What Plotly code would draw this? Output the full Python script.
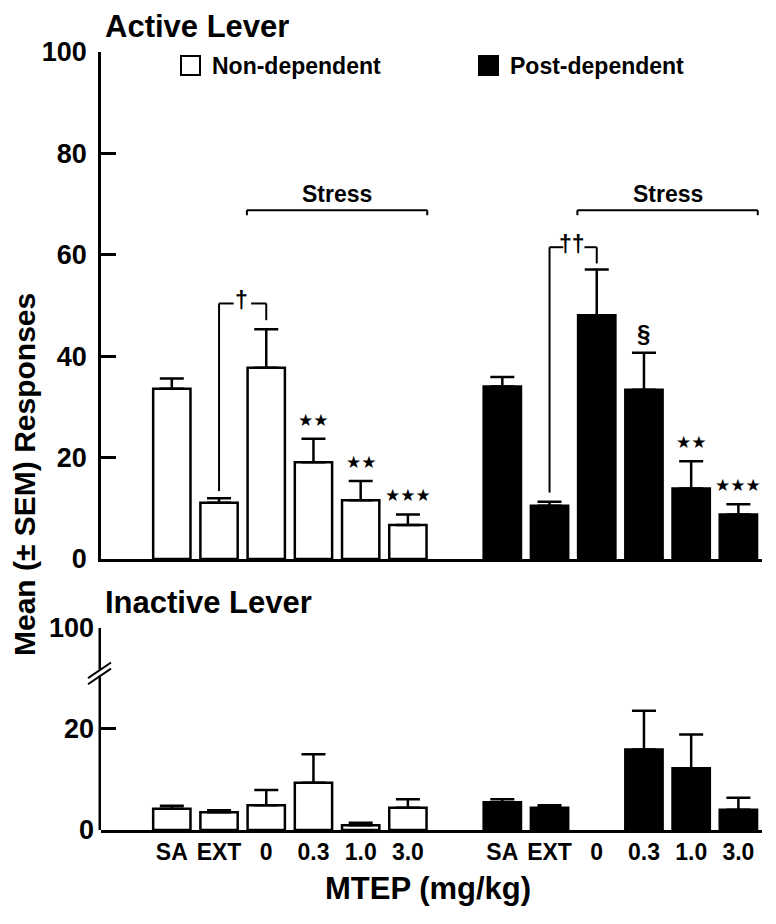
import plotly.graph_objects as go

# ---------------- data ----------------
categories = ["SA", "EXT", "0", "0.3", "1.0", "3.0"]
groups = ["Non-dependent", "Post-dependent"]

active_nd_mean = [33.6, 11.1, 37.7, 19.1, 11.6, 6.7]
active_nd_sem = [2.0, 0.9, 7.6, 4.6, 3.8, 2.1]
active_pd_mean = [34.0, 10.5, 48.1, 33.4, 13.9, 8.8]
active_pd_sem = [1.9, 0.8, 9.0, 7.3, 5.4, 2.0]

inactive_nd_mean = [4.2, 3.5, 4.9, 9.35, 0.95, 4.4]
inactive_nd_sem = [0.6, 0.4, 3.0, 5.65, 0.5, 1.7]
inactive_pd_mean = [5.5, 4.4, None, 15.9, 12.2, 4.0]
inactive_pd_sem = [0.6, 0.5, None, 7.7, 6.7, 2.4]

active_ticks = [0, 20, 40, 60, 80, 100]
inactive_tickvals = [0, 20, 40]          # broken axis: top tick stands for 100
inactive_ticktext = ["0", "20", "100"]

# significance marks: (group, category index, text)
stars = [(0, 3, "★★"), (0, 4, "★★"), (0, 5, "★★★"),
         (1, 4, "★★"), (1, 5, "★★★")]
sections = [(1, 3, "§")]

# ---------------- layout helpers ----------------
W, H = 776, 924
ML, MR, MT, MB = 101, 14, 52, 94
PW = W - ML - MR
PH = H - MT - MB


def px(x):
    return (x - ML) / PW


def py(y):
    return (H - MB - y) / PH


FONT = "Liberation Sans, Arial, Helvetica, sans-serif"
nd_x = list(range(len(categories)))
pd_x = [i + len(categories) + 1 for i in range(len(categories))]
gx = [nd_x, pd_x]

BAR_W = 0.79
LW = 2.5


def bar(x, y, err, fill, xa, ya):
    return go.Bar(
        x=x, y=y, width=BAR_W, xaxis=xa, yaxis=ya, showlegend=False,
        marker=dict(color=fill, line=dict(color="black", width=LW)),
        error_y=dict(type="data", symmetric=False, array=err,
                     arrayminus=[0 if e is not None else None for e in err],
                     color="black", thickness=LW, width=12),
    )


fig = go.Figure()
fig.add_trace(bar(nd_x, active_nd_mean, active_nd_sem, "white", "x", "y"))
fig.add_trace(bar(pd_x, active_pd_mean, active_pd_sem, "black", "x", "y"))
fig.add_trace(bar(nd_x, inactive_nd_mean, inactive_nd_sem, "white", "x2", "y2"))
fig.add_trace(bar(pd_x, inactive_pd_mean, inactive_pd_sem, "black", "x2", "y2"))

top_dom = [py(559), 1]
bot_dom = [0, py(627.7)]
xr = [-1.5, len(categories) * 2 + 0.5]

axis_common = dict(showgrid=False, zeroline=False, linecolor="black",
                   linewidth=LW, tickcolor="black")

fig.update_layout(
    width=W, height=H, margin=dict(l=ML, r=MR, t=MT, b=MB),
    paper_bgcolor="white", plot_bgcolor="white", barmode="overlay",
    font=dict(family=FONT, color="black", weight="bold"),
    xaxis=dict(domain=[0, 1], range=xr, anchor="y", showline=True,
               showticklabels=False, ticks="", **axis_common),
    yaxis=dict(domain=top_dom, range=[0, 100], anchor="x", showline=True,
               tickvals=active_ticks, ticks="inside", ticklen=15, tickwidth=LW,
               ticklabelstandoff=6,
               tickfont=dict(size=27, family=FONT, weight="bold"), **axis_common),
    xaxis2=dict(domain=[0, 1], range=xr, anchor="y2", showline=True,
                tickvals=nd_x + pd_x, ticktext=categories * 2, ticks="",
                tickfont=dict(size=23, family=FONT, weight="bold"), **axis_common),
    yaxis2=dict(domain=bot_dom, range=[0, 40], anchor="x2", showline=False,
                tickvals=inactive_tickvals, ticktext=inactive_ticktext,
                ticks="inside", ticklen=15, tickwidth=LW, ticklabelstandoff=6,
                tickfont=dict(size=27, family=FONT, weight="bold"), **axis_common),
)

shapes = []
ann = []
LINE = dict(color="black", width=2)

# broken y axis of the inactive panel
BREAK_LO, BREAK_HI = 30.5, 31.7
for y0, y1 in [(0, BREAK_LO), (BREAK_HI, 40)]:
    shapes.append(dict(type="line", xref="paper", yref="y2", xsizemode="pixel",
                       xanchor=0, x0=-LW / 2, x1=-LW / 2, y0=y0, y1=y1,
                       line=dict(color="black", width=LW)))
for yb in (BREAK_LO, BREAK_HI):
    shapes.append(dict(type="line", xref="paper", yref="y2", xsizemode="pixel",
                       ysizemode="pixel", xanchor=0, yanchor=yb,
                       x0=-13, x1=10, y0=-8.5, y1=7.2,
                       line=dict(color="black", width=2)))

# Stress brackets
STRESS_Y = 68.8
for g in range(2):
    xa = gx[g][2] - 0.41
    xb = gx[g][5] + 0.41
    shapes += [
        dict(type="line", xref="x", yref="y", x0=xa, x1=xb, y0=STRESS_Y, y1=STRESS_Y, line=LINE),
        dict(type="line", xref="x", yref="y", x0=xa, x1=xa, y0=STRESS_Y, y1=STRESS_Y - 1, line=LINE),
        dict(type="line", xref="x", yref="y", x0=xb, x1=xb, y0=STRESS_Y, y1=STRESS_Y - 1, line=LINE),
    ]
    ann.append(dict(x=(xa + xb) / 2, y=STRESS_Y + 3.2, xref="x", yref="y",
                    text="Stress", showarrow=False, font=dict(size=23)))

# dagger brackets (EXT vs 0)
daggers = [(0, "†", 50.4, 1.4, 1.8, 0.17, 0.2), (1, "††", 61.5, 1.8, 1.2, 0.19, 0.26)]
means = [active_nd_mean, active_pd_mean]
sems = [active_nd_sem, active_pd_sem]
for g, txt, yl, off_l, off_r, gl, gr in daggers:
    xl, xr_ = gx[g][1], gx[g][2]
    xm = (xl + xr_) / 2 - 0.02
    yl_bot = means[g][1] + sems[g][1] + off_l
    yr_bot = means[g][2] + sems[g][2] + off_r
    shapes += [
        dict(type="line", xref="x", yref="y", x0=xl, x1=xl, y0=yl_bot, y1=yl, line=LINE),
        dict(type="line", xref="x", yref="y", x0=xl, x1=xm - gl, y0=yl, y1=yl, line=LINE),
        dict(type="line", xref="x", yref="y", x0=xm + gr, x1=xr_, y0=yl, y1=yl, line=LINE),
        dict(type="line", xref="x", yref="y", x0=xr_, x1=xr_, y0=yl, y1=yr_bot, line=LINE),
    ]
    ann.append(dict(x=xm, y=yl, xref="x", yref="y", text=txt, showarrow=False,
                    yanchor="middle", yshift=3, font=dict(size=23)))

# stars and section mark
for g, i, txt in stars:
    ann.append(dict(x=gx[g][i], y=means[g][i] + sems[g][i], xref="x", yref="y",
                    text=txt, showarrow=False, yanchor="middle", yshift=19,
                    font=dict(size=17, family="DejaVu Sans")))
for g, i, txt in sections:
    ann.append(dict(x=gx[g][i], y=means[g][i] + sems[g][i], xref="x", yref="y",
                    text=txt, showarrow=False, yanchor="middle", yshift=19,
                    font=dict(size=24)))

# legend
for g, (fill, x0, xt) in enumerate([("white", 181, 210), ("black", 479, 508)]):
    shapes.append(dict(type="rect", xref="paper", yref="paper",
                       x0=px(x0), x1=px(x0 + 19), y0=py(75), y1=py(56),
                       fillcolor=fill, line=dict(color="black", width=2)))
    ann.append(dict(x=px(xt), y=py(66), xref="paper", yref="paper",
                    text=groups[g], showarrow=False, xanchor="left",
                    yanchor="middle", font=dict(size=23)))

# titles
ann += [
    dict(x=px(103), y=py(27), xref="paper", yref="paper", text="Active Lever",
         showarrow=False, xanchor="left", yanchor="middle", font=dict(size=31)),
    dict(x=px(103), y=py(602), xref="paper", yref="paper", text="Inactive Lever",
         showarrow=False, xanchor="left", yanchor="middle", font=dict(size=31)),
    dict(x=px(24), y=py(475), xref="paper", yref="paper",
         text="Mean (± SEM) Responses", textangle=-90, showarrow=False,
         xanchor="center", yanchor="middle", font=dict(size=30)),
    dict(x=px(428), y=py(889), xref="paper", yref="paper", text="MTEP (mg/kg)",
         showarrow=False, xanchor="center", yanchor="middle", font=dict(size=31)),
]

fig.update_layout(shapes=shapes, annotations=ann)
fig.write_html("out.html", config={"displayModeBar": False},
               post_script="document.body.style.margin='0';")
